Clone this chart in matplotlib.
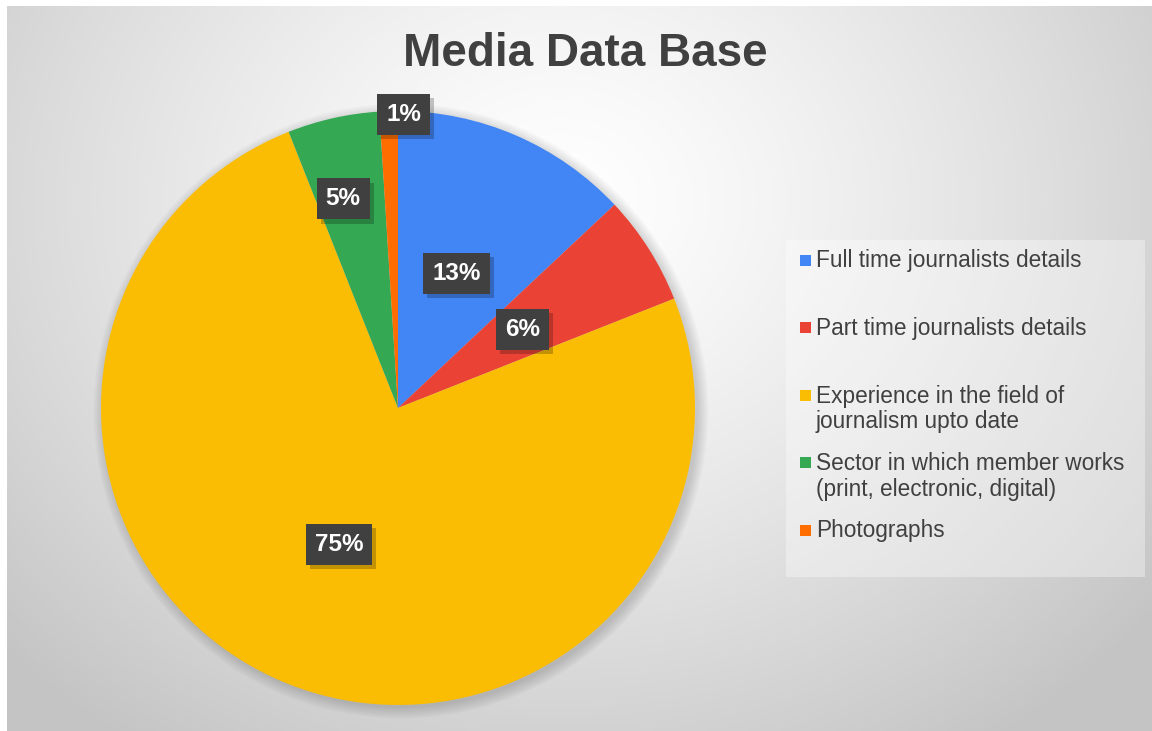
import numpy as np
import matplotlib
matplotlib.use("Agg")
import matplotlib.pyplot as plt
import matplotlib.patheffects as pe
from matplotlib.patches import Rectangle, Circle

plt.rcParams['font.family'] = ['Liberation Sans', 'DejaVu Sans']

# data
categories = ["Full time journalists details",
              "Part time journalists details",
              "Experience in the field of\njournalism upto date",
              "Sector in which member works\n(print, electronic, digital)",
              "Photographs"]
values = [13, 6, 75, 5, 1]
pct_labels = ["13%", "6%", "75%", "5%", "1%"]
colors = ["#4285F4", "#EA4335", "#FBBC04", "#34A853", "#FF6D01"]

# label placement (radius fraction, angle nudge in degrees)
label_r = [0.495, 0.496, 0.50, 0.728, 0.99]
label_nudge = [0, 0, 0, 2.1, -2.9]

W, H = 1152, 731
fig = plt.figure(figsize=(W / 100, H / 100), dpi=100)
fig.patch.set_facecolor("white")

def fx(x):
    return x / W

def fy(y):
    return 1 - y / H

# radial grey background
bg = fig.add_axes([fx(7), 0, 1 - fx(7), fy(6)])
bg.set_axis_off()
xx, yy = np.meshgrid(np.linspace(7, W, 400), np.linspace(6, H, 300))
d = np.sqrt(((xx - 560) / 700) ** 2 + ((yy - 200) / 600) ** 2)
v = (255 - 52 * np.clip(d, 0, 1.1) ** 1.3) / 255
bg.imshow(np.dstack([v, v, v]), extent=[0, 1, 0, 1], aspect="auto", origin="upper")
bg.set_xlim(0, 1)
bg.set_ylim(0, 1)

# pie
cx, cy, R = 398, 408, 297
ax = fig.add_axes([fx(cx - R), fy(cy + R), 2 * R / W, 2 * R / H])

# soft shadow under the pie
for k in range(8):
    ax.add_patch(Circle((0.01, -0.01), 1.0 + 0.005 * k, color="black",
                        alpha=0.018, lw=0, zorder=0, clip_on=False))

wedges, _ = ax.pie(values, colors=colors, startangle=90, counterclock=False,
                   radius=1, wedgeprops=dict(edgecolor="none", linewidth=0))
for w in wedges:
    w.set_zorder(2)
ax.set_xlim(-1, 1)
ax.set_ylim(-1, 1)
ax.set_axis_off()

for w, lab, r, nud in zip(wedges, pct_labels, label_r, label_nudge):
    ang = np.deg2rad((w.theta1 + w.theta2) / 2 + nud)
    x, y = r * np.cos(ang), r * np.sin(ang)
    t = ax.text(x, y, lab, ha="center", va="center", fontsize=17.5,
                fontweight="bold", color="white", zorder=4,
                bbox=dict(boxstyle="square,pad=0.37", facecolor="#404040",
                          edgecolor="none"))
    t.get_bbox_patch().set_path_effects(
        [pe.SimplePatchShadow(offset=(3, -3), shadow_rgbFace="black", alpha=0.22),
         pe.Normal()])

# title
fig.text(fx(585), fy(54), "Media Data Base", ha="center", va="center",
         fontsize=33, fontweight="bold", color="#404040")

# legend
fig.add_artist(Rectangle((fx(786), fy(577)), fx(1145) - fx(786), fy(240) - fy(577),
                         transform=fig.transFigure, facecolor="white",
                         alpha=0.35, edgecolor="none"))
for i, (lab, col) in enumerate(zip(categories, colors)):
    yc = 260 + i * 67.5
    fig.add_artist(Rectangle((fx(800), fy(yc + 5.5)), fx(11), 11 / H,
                             transform=fig.transFigure, facecolor=col,
                             edgecolor="none"))
    for j, line in enumerate(lab.split("\n")):
        fig.text(fx(816), fy(yc + j * 26 + 7.5), line, ha="left", va="baseline",
                 fontsize=16.3, color="#404040")

fig.savefig("out.png", dpi=100)
